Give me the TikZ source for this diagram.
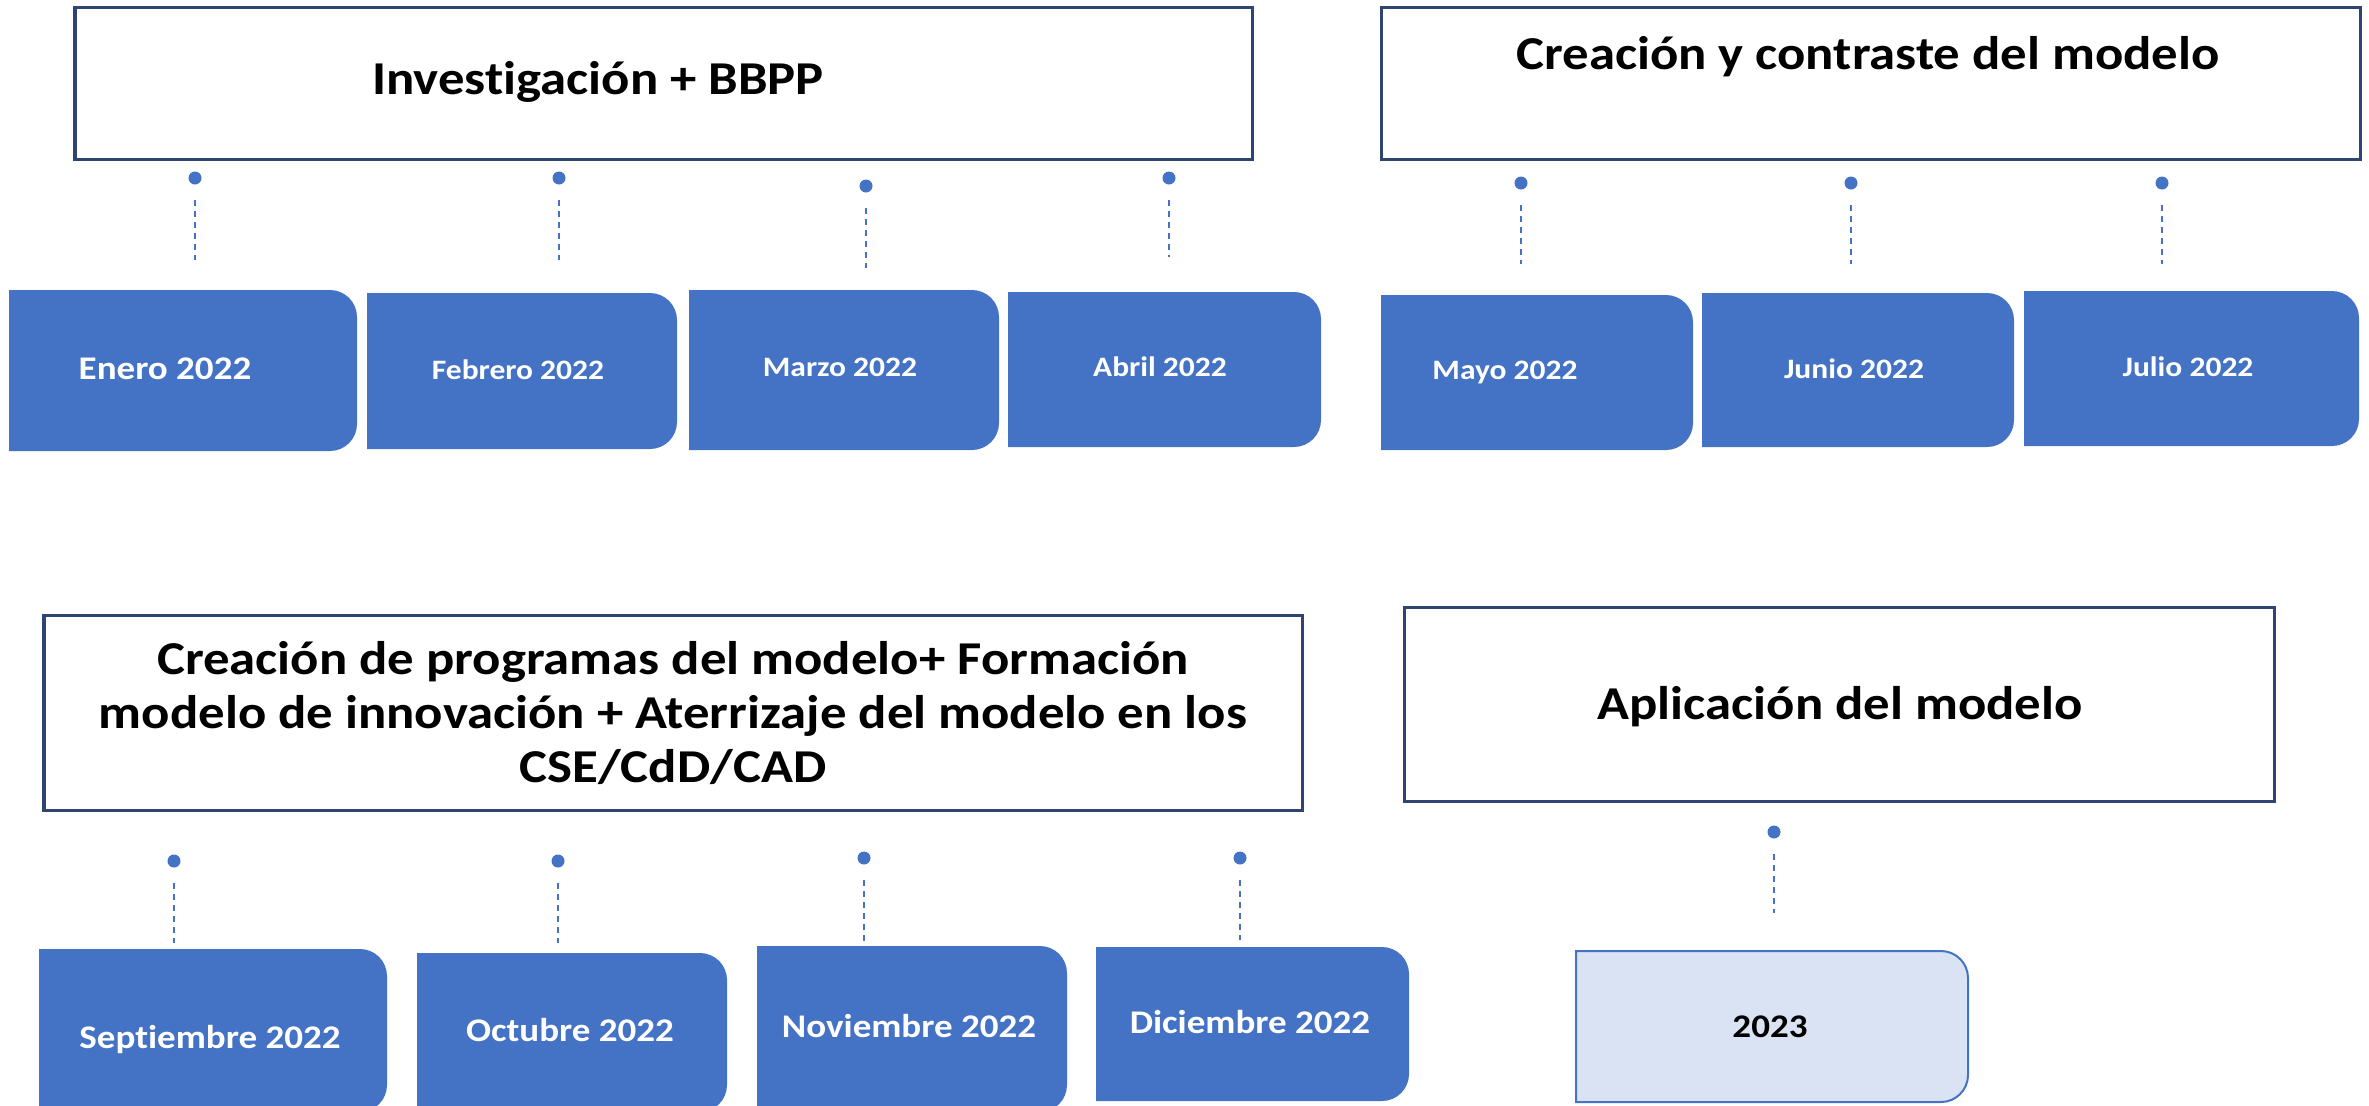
\documentclass[tikz,border=0pt]{standalone}
\usepackage{fontspec}
\setmainfont{Carlito}[FakeStretch=1.12, Ligatures=NoCommon]
\definecolor{mblue}{HTML}{4472C4}
\definecolor{lblue}{HTML}{DAE3F3}
\definecolor{navy}{HTML}{2F4470}

\begin{document}
\begin{tikzpicture}[x=0.01cm, y=-0.01cm,
  tbox/.style={draw=navy, line width=0.03cm, fill=white},
  mbox/.style={fill=mblue},
  ybox/.style={fill=lblue, draw=mblue, line width=0.02cm},
  ttl/.style={font=\fontsize{13.4}{15.4}\selectfont\bfseries, anchor=base},
  mlab/.style={font=\fontsize{8}{9.6}\selectfont\bfseries, text=white, anchor=base},
  blab/.style={font=\fontsize{9.4}{11}\selectfont\bfseries, text=white, anchor=base},
  mdot/.style={circle, fill=mblue, inner sep=0pt, minimum size=0.13cm},
  dlink/.style={draw=mblue, line width=0.013cm, dash pattern=on 0.06cm off 0.05cm, shorten <=0.15cm},
]
\useasboundingbox (0,0) rectangle (2369,1105);
\clip (0,0) rectangle (2369,1105);

% phase boxes
\draw [tbox] (75,7) rectangle (1252,159);
\draw [tbox] (1381,7) rectangle (2360,159);
\draw [tbox] (44,615) rectangle (1302,810);
\draw [tbox] (1404,607) rectangle (2274,801);

\node [ttl] (inv) at (598,94) {Investigación + BBPP};
\node [ttl] (cre) at (1868,69) {Creación y contraste del modelo};
\node [ttl, anchor=center, align=center] (prog) at (673,713) {Creación de programas del modelo+ Formación\\modelo de innovación + Aterrizaje del modelo en los\\CSE/CdD/CAD};
\node [ttl] (apl) at (1840,719) {Aplicación del modelo};

% months, first half
\fill [mbox] (9,451) -- (9,290) [rounded corners=0.27cm] -- (357,290) -- (357,451) [sharp corners] -- cycle;
\fill [mbox] (367,449) -- (367,293) [rounded corners=0.27cm] -- (677,293) -- (677,449) [sharp corners] -- cycle;
\fill [mbox] (689,450) -- (689,290) [rounded corners=0.27cm] -- (999,290) -- (999,450) [sharp corners] -- cycle;
\fill [mbox] (1008,447) -- (1008,292) [rounded corners=0.27cm] -- (1321,292) -- (1321,447) [sharp corners] -- cycle;
\fill [mbox] (1381,450) -- (1381,295) [rounded corners=0.27cm] -- (1693,295) -- (1693,450) [sharp corners] -- cycle;
\fill [mbox] (1702,447) -- (1702,293) [rounded corners=0.27cm] -- (2014,293) -- (2014,447) [sharp corners] -- cycle;
\fill [mbox] (2024,446) -- (2024,291) [rounded corners=0.27cm] -- (2359,291) -- (2359,446) [sharp corners] -- cycle;

\node [blab] (ene) at (165,379) {Enero 2022};
\node [mlab] (feb) at (518,379) {Febrero 2022};
\node [mlab] (mar) at (840,376) {Marzo 2022};
\node [mlab] (abr) at (1160,376) {Abril 2022};
\node [mlab] (may) at (1505,379) {Mayo 2022};
\node [mlab] (jun) at (1854,378) {Junio 2022};
\node [mlab] (jul) at (2188,376) {Julio 2022};

% months, second half
\fill [mbox] (39,1112) -- (39,949) [rounded corners=0.27cm] -- (387,949) -- (387,1112) [sharp corners] -- cycle;
\fill [mbox] (417,1112) -- (417,953) [rounded corners=0.27cm] -- (727,953) -- (727,1112) [sharp corners] -- cycle;
\fill [mbox] (757,1112) -- (757,946) [rounded corners=0.27cm] -- (1067,946) -- (1067,1112) [sharp corners] -- cycle;
\fill [mbox] (1096,1101) -- (1096,947) [rounded corners=0.27cm] -- (1409,947) -- (1409,1101) [sharp corners] -- cycle;
\filldraw [ybox] (1576,1102) -- (1576,951) [rounded corners=0.27cm] -- (1968,951) -- (1968,1102) [sharp corners] -- cycle;

\node [blab] (sep) at (210,1048) {Septiembre 2022};
\node [blab] (oct) at (570,1041) {Octubre 2022};
\node [blab] (nov) at (909,1037) {Noviembre 2022};
\node [blab] (dic) at (1250,1033) {Diciembre 2022};
\node [blab, text=black] (y23) at (1770,1037) {2023};

% dots and dashed ticks
\node [mdot] (d1) at (195,178) {};
\node [mdot] (d2) at (559,178) {};
\node [mdot] (d3) at (866,186) {};
\node [mdot] (d4) at (1169,178) {};
\node [mdot] (d5) at (1521,183) {};
\node [mdot] (d6) at (1851,183) {};
\node [mdot] (d7) at (2162,183) {};
\node [mdot] (d8) at (174,861) {};
\node [mdot] (d9) at (558,861) {};
\node [mdot] (d10) at (864,858) {};
\node [mdot] (d11) at (1240,858) {};
\node [mdot] (d12) at (1774,832) {};

\coordinate (e1) at (195,260);
\coordinate (e2) at (559,260);
\coordinate (e3) at (866,268);
\coordinate (e4) at (1169,257);
\coordinate (e5) at (1521,264);
\coordinate (e6) at (1851,264);
\coordinate (e7) at (2162,264);
\coordinate (e8) at (174,943);
\coordinate (e9) at (558,943);
\coordinate (e10) at (864,941);
\coordinate (e11) at (1240,940);
\coordinate (e12) at (1774,913);

\foreach \i in {1,...,12} {
  \draw [dlink] (d\i) -- (e\i);
}

\end{tikzpicture}
\end{document}
